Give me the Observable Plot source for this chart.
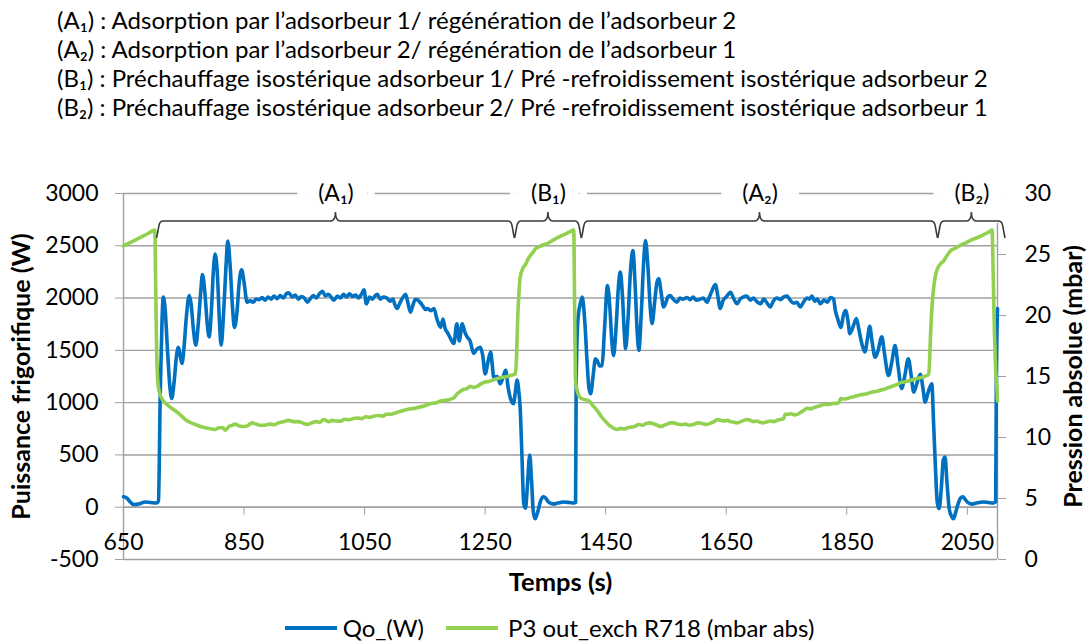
<!DOCTYPE html>
<html>
<head>
<meta charset="utf-8">
<script src="https://cdn.jsdelivr.net/npm/d3@7"></script>
<script src="https://cdn.jsdelivr.net/npm/@observablehq/plot@0.6"></script>
<style>
  body { margin: 0; background: #fff; font-family: Lato, "Open Sans", sans-serif; color: #000; }
  #wrap { position: relative; width: 1087px; height: 641px; overflow: hidden; }
  #header { position: absolute; left: 57px; top: 5px; font-size: 24px; line-height: 29px; white-space: nowrap; }
  #chart { position: absolute; left: 0; top: 150px; }
  #legend { position: absolute; left: 0; width: 1087px; top: 613px; height: 30px; line-height: 30px; font-size: 24px;
            display: flex; justify-content: center; align-items: center; box-sizing: border-box; padding-left: 12px; }
  .sw { display: inline-block; width: 52px; height: 4px; margin-right: 6px; }
  .item { display: flex; align-items: center; }
  #chart g[aria-label$="tick"] { stroke: #a0a0a0; }
</style>
</head>
<body>
<div id="wrap">
  <div id="header"></div>
  <div id="chart"></div>
  <div id="legend"></div>
</div>
<script>
// ---------- text ----------
const headerLines = [
  "(A₁) : Adsorption par l’adsorbeur 1/ régénération de l’adsorbeur 2",
  "(A₂) : Adsorption par l’adsorbeur 2/ régénération de l’adsorbeur 1",
  "(B₁) : Préchauffage isostérique adsorbeur 1/ Pré -refroidissement isostérique adsorbeur 2",
  "(B₂) : Préchauffage isostérique adsorbeur 2/ Pré -refroidissement isostérique adsorbeur 1"
];
const seriesNames = ["Qo_(W)", "P3 out_exch R718 (mbar abs)"];
const seriesColors = ["#0070C0", "#92D050"];
const xTitle = "Temps (s)";
const yTitleLeft = "Puissance frigorifique (W)";
const yTitleRight = "Pression absolue (mbar)";

// ---------- phases ----------
const phaseNames = ["(A₁)", "(B₁)", "(A₂)", "(B₂)"];
const phaseStart = [708, 1302, 1413, 2004];
const phaseEnd   = [1297, 1408, 1999, 2111];

// ---------- ticks ----------
const xTicks = [650, 850, 1050, 1250, 1450, 1650, 1850, 2050];
const yTicks = [-500, 0, 500, 1000, 1500, 2000, 2500, 3000];
const pTicks = [0, 5, 10, 15, 20, 25, 30];

// ---------- Qo_(W) ----------
const qoTime = [650,655,662,667,675,686,695,705,708,711,714,716,719,723,727,730,734,738,741,744,747,750,754,759,762,766,770,774,778,781,785,789,792,796,799,802,806,809,812,816,820,823,827,831,834,838,842,846,850,855,860,865,870,875,880,885,890,895,900,905,910,915,920,924,930,935,940,945,950,955,960,965,970,975,980,985,990,995,999,1005,1010,1015,1020,1025,1030,1035,1040,1045,1049,1053,1058,1063,1067,1071,1076,1081,1087,1092,1097,1100,1104,1109,1114,1118,1122,1126,1130,1134,1137,1142,1147,1151,1154,1160,1165,1170,1176,1180,1184,1187,1192,1198,1203,1207,1212,1216,1220,1225,1231,1236,1242,1246,1250,1255,1259,1262,1264,1270,1275,1280,1284,1288,1292,1297,1300,1303,1306,1308,1311,1314,1317,1320,1324,1327,1330,1333,1337,1342,1346,1350,1355,1360,1364,1370,1375,1380,1390,1397,1400,1401,1404,1408,1411,1415,1419,1422,1425,1429,1433,1436,1440,1444,1448,1453,1457,1460,1463,1467,1471,1474,1478,1481,1483,1487,1491,1495,1499,1502,1505,1509,1513,1516,1520,1524,1527,1531,1535,1538,1542,1546,1550,1553,1557,1562,1568,1573,1578,1585,1590,1595,1600,1607,1612,1618,1622,1627,1632,1636,1640,1645,1650,1657,1662,1668,1673,1678,1684,1690,1695,1700,1707,1712,1718,1723,1728,1734,1740,1745,1751,1756,1762,1767,1773,1778,1784,1788,1792,1797,1801,1806,1812,1818,1823,1828,1831,1835,1840,1845,1848,1852,1855,1860,1866,1870,1875,1880,1884,1888,1892,1897,1902,1908,1913,1919,1925,1930,1935,1941,1946,1952,1957,1961,1966,1972,1976,1980,1985,1991,1994,1997,2000,2003,2007,2010,2013,2016,2020,2024,2027,2031,2035,2039,2043,2047,2052,2058,2065,2070,2077,2085,2093,2097,2098,2100];
const qoValue = [100,90,45,25,30,50,45,40,60,1100,1800,2010,1900,1500,1150,1040,1200,1450,1530,1450,1375,1500,1800,2025,1950,1700,1550,1750,2050,2225,2050,1750,1630,1900,2250,2420,2200,1800,1550,1850,2300,2545,2300,1900,1720,1850,2150,2270,2150,1960,1975,1960,1990,1985,2005,1980,2010,1990,2020,1995,2025,2000,2040,2050,2010,2030,1990,2015,2000,1960,1995,2025,2000,2040,2065,2020,2035,2005,1980,2020,2000,2035,2010,2040,2015,2030,2000,2040,2080,1945,2010,1990,2020,2035,1990,2010,2000,1970,1990,1940,1900,1960,2010,2035,1950,1865,1930,1985,1985,1960,1920,1890,1900,1880,1900,1800,1720,1800,1700,1675,1620,1565,1755,1590,1755,1680,1630,1590,1470,1510,1530,1450,1275,1400,1485,1350,1245,1250,1180,1250,1310,1150,1040,990,1100,1215,1100,960,500,35,-10,200,500,250,-50,-110,-50,60,100,90,50,35,30,40,45,50,45,40,45,1180,1800,1950,2010,1800,1400,1150,1085,1250,1420,1400,1350,1355,1700,2120,1900,1600,1450,1700,2100,2250,2000,1650,1515,1800,2250,2455,2100,1700,1500,1850,2350,2550,2300,1900,1755,1950,2150,2185,2050,1915,1960,2010,2025,1990,1960,2000,1990,2005,1985,2010,1980,1990,2000,1960,2010,2080,2130,2020,1900,1980,2010,2055,2000,1945,1990,2010,2020,1980,2000,1970,1945,1990,1950,1915,1970,2000,1985,2010,2020,1980,1950,1960,1915,1960,2000,1990,2020,1970,1990,1945,1980,1960,2005,1990,1880,1800,1720,1850,1880,1780,1660,1720,1805,1700,1560,1485,1600,1730,1580,1435,1500,1630,1450,1260,1400,1545,1350,1135,1250,1420,1250,1100,1180,1270,1150,1005,1100,1180,800,385,50,-15,200,450,480,250,-20,-90,-110,-40,40,90,100,70,40,30,40,45,50,45,40,50,1150,1900];

// ---------- P3 out_exch R718 (mbar abs) ----------
const pTime = [650,660,670,680,690,702,703.5,705,708,713,722,730,741,752,760,769,778,786,795,802,808,815,819,825,830,835,842,851,857,863,870,877,885,892,900,907,915,924,932,940,947,955,962,970,976,982,990,996,1003,1010,1017,1024,1031,1038,1045,1052,1058,1065,1072,1080,1086,1093,1100,1107,1113,1120,1127,1134,1141,1148,1155,1162,1169,1176,1183,1190,1198,1204,1209,1215,1220,1225,1231,1237,1243,1250,1256,1262,1268,1275,1281,1287,1293,1300,1302,1304,1306,1308,1312,1317,1322,1328,1333,1340,1347,1353,1360,1367,1375,1382,1390,1397,1398,1399,1400,1404,1408,1415,1422,1429,1436,1443,1450,1456,1462,1469,1475,1481,1486,1492,1498,1505,1511,1517,1524,1530,1536,1541,1547,1552,1558,1563,1569,1575,1582,1589,1596,1603,1610,1618,1625,1630,1635,1641,1647,1652,1657,1663,1668,1674,1679,1684,1690,1696,1701,1706,1712,1718,1724,1729,1734,1740,1745,1748,1753,1758,1763,1768,1773,1778,1784,1790,1795,1801,1806,1812,1818,1823,1828,1833,1837,1840,1845,1851,1857,1862,1868,1873,1879,1885,1890,1895,1901,1906,1912,1917,1923,1928,1934,1939,1945,1950,1956,1961,1967,1972,1979,1986,1989,1991,1993,1996,2000,2005,2011,2016,2022,2027,2033,2040,2049,2057,2065,2072,2080,2086,2091,2093,2095,2097,2099,2100];
const pValue = [25.7,25.95,26.2,26.45,26.7,27.0,22.0,17.1,14.1,13.25,12.7,12.4,12.0,11.5,11.25,11.07,10.9,10.8,10.7,10.66,10.8,10.8,10.6,10.9,11.0,11.1,10.95,10.9,11.0,11.2,11.1,11.0,11.0,11.1,11.05,11.2,11.3,11.4,11.3,11.3,11.2,11.07,11.2,11.3,11.25,11.48,11.3,11.4,11.35,11.34,11.5,11.45,11.55,11.6,11.55,11.7,11.65,11.75,11.8,11.75,11.9,11.9,12.0,12.1,12.2,12.3,12.35,12.4,12.5,12.57,12.7,12.8,12.85,13.0,13.05,13.1,13.25,13.6,13.8,13.95,14.0,14.2,14.1,14.2,14.4,14.55,14.6,14.7,14.8,14.9,14.95,15.0,15.1,15.2,16.5,19.8,21.8,23.1,23.8,24.2,24.7,25.1,25.45,25.65,25.8,25.9,26.1,26.3,26.5,26.65,26.85,27.0,23.0,18.0,14.6,13.6,13.25,13.1,13.0,12.6,12.2,11.7,11.3,11.0,10.8,10.65,10.75,10.7,10.8,10.85,10.9,11.07,11.0,11.15,11.2,11.1,11.0,10.9,11.0,11.1,11.2,11.2,11.1,11.05,11.1,11.0,11.07,11.2,11.15,11.07,11.2,11.3,11.48,11.4,11.35,11.4,11.3,11.25,11.2,11.3,11.4,11.48,11.4,11.3,11.35,11.25,11.2,11.3,11.35,11.3,11.4,11.48,11.55,11.9,11.9,11.95,11.85,11.9,12.05,12.2,12.4,12.35,12.45,12.55,12.6,12.7,12.7,12.75,12.8,12.8,12.85,13.2,13.15,13.2,13.3,13.35,13.45,13.5,13.55,13.6,13.7,13.75,13.8,13.9,13.95,14.05,14.15,14.25,14.35,14.5,14.55,14.6,14.7,14.75,14.85,14.9,15.0,15.2,18.5,20.5,21.75,23.0,23.8,24.2,24.5,24.9,25.3,25.45,25.6,25.8,26.0,26.2,26.35,26.5,26.7,26.85,27.0,23.0,18.5,15.5,14.1,13.0];

// ---------- layout ----------
const W = 1087, H = 455, mTop = 43, mBottom = 46, mLeft = 123, mRight = 90;
const yMin = -500, yMax = 3000, pMax = 30;
const toW = p => yMin + p * (yMax - yMin) / pMax;      // secondary axis -> primary
const toP = w => (w - yMin) * pMax / (yMax - yMin);
const plotH = H - mTop - mBottom;
const zeroDy = -plotH * (0 - yMin) / (yMax - yMin);

document.getElementById("header").innerHTML = headerLines.map(l => `<div>${l}</div>`).join("");

const qo = qoTime.map((t, i) => ({t, v: qoValue[i]}));
const p3 = pTime.map((t, i) => ({t, v: toW(pValue[i])}));
const phases = phaseNames.map((n, i) => ({n, s: phaseStart[i], e: phaseEnd[i], m: (phaseStart[i] + phaseEnd[i]) / 2}));

const gridColor = "#a0a0a0";
const font = "Lato, 'Open Sans', sans-serif";

const braceMark = (index, scales, values, dims) => {
  const g = d3.create("svg:g").attr("fill", "none").attr("stroke", "#3a3a3a").attr("stroke-width", 1.6);
  const top = dims.marginTop;
  const yBar = top + 28, yEnd = top + 45, yNub = top + 19, r = 5;
  phases.forEach(ph => {
    const x1 = scales.x(ph.s), x2 = scales.x(ph.e), xm = (x1 + x2) / 2;
    g.append("path").attr("d",
      `M${x1 - 1.5},${yEnd} C${x1 + 1},${yBar + 8} ${x1},${yBar} ${x1 + r},${yBar} H${xm - r} ` +
      `Q${xm},${yBar} ${xm},${yNub} Q${xm},${yBar} ${xm + r},${yBar} H${x2 - r} ` +
      `C${x2},${yBar} ${x2 - 1},${yBar + 8} ${x2 + 1.5},${yEnd}`);
  });
  return g.node();
};

const chart = Plot.plot({
  width: W, height: H,
  marginTop: mTop, marginBottom: mBottom, marginLeft: mLeft, marginRight: mRight,
  style: {fontFamily: font, fontSize: "23px", background: "white", color: "#000", overflow: "visible"},
  x: {domain: [650, 2100], axis: null},
  y: {domain: [yMin, yMax], axis: null},
  marks: [
    Plot.gridY(yTicks, {stroke: gridColor, strokeOpacity: 1, strokeWidth: 1.4}),
    Plot.ruleX([650, 2100], {stroke: gridColor, strokeWidth: 1.4}),
    Plot.ruleY([0], {stroke: gridColor, strokeWidth: 1.4}),
    Plot.axisY({anchor: "left", label: null, ticks: yTicks, tickSize: 8, tickPadding: 17, tickFormat: d => String(d), fontSize: 23}),
    Plot.axisY({anchor: "right", label: null, ticks: pTicks.map(toW), tickSize: 8, tickPadding: 19,
                tickFormat: w => String(Math.round(toP(w))), fontSize: 23}),
    Plot.axisX({anchor: "bottom", label: null, ticks: xTicks, tickSize: 8, tickPadding: 18, dy: zeroDy,
                tickFormat: d => String(d), fontSize: 23}),
    Plot.text(phases, {x: "m", y: yMax, text: "n", fill: "black", stroke: "white", strokeWidth: 44,
                       strokeLinejoin: "round", fontSize: 23, lineAnchor: "middle"}),
    Plot.line(qo, {x: "t", y: "v", stroke: seriesColors[0], strokeWidth: 3.6, curve: "monotone-x"}),
    Plot.line(p3, {x: "t", y: "v", stroke: seriesColors[1], strokeWidth: 3.6, curve: "monotone-x"}),
    braceMark,
    Plot.text([yTitleLeft], {frameAnchor: "left", dx: -102, rotate: -90, textAnchor: "middle", lineAnchor: "middle",
                             fontWeight: "bold", fontSize: 25, fill: "black"}),
    Plot.text([yTitleRight], {frameAnchor: "right", dx: 76, rotate: -90, textAnchor: "middle", lineAnchor: "middle",
                              fontWeight: "bold", fontSize: 25, fill: "black"}),
    Plot.text([xTitle], {frameAnchor: "bottom", dy: 23, textAnchor: "middle", lineAnchor: "middle",
                         fontWeight: "bold", fontSize: 25.5, fill: "black"})
  ]
});
document.getElementById("chart").appendChild(chart);

document.getElementById("legend").innerHTML = seriesNames.map((n, i) =>
  `<span class="item" style="margin:0 ${i === 0 ? 22 : 0}px 0 0"><span class="sw" style="background:${seriesColors[i]};margin-right:${i === 0 ? 6 : 10}px"></span>${n}</span>`
).join("");
</script>
</body>
</html>
